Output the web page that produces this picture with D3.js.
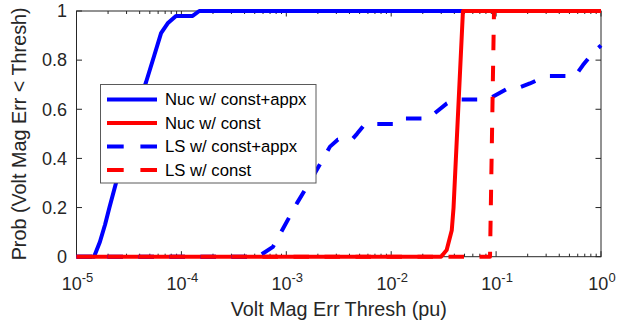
<!DOCTYPE html>
<html>
<head>
<meta charset="utf-8">
<script src="https://cdn.jsdelivr.net/npm/d3@7"></script>
<style>
  body { margin: 0; background: #fff; }
  svg { display: block; font-family: "Liberation Sans", Arial, sans-serif; }
</style>
</head>
<body>
<div id="chart"></div>
<script>
// values (x = threshold in pu, y = probability)
const nucAppxX = [1e-5, 1.47e-5, 1.67e-5, 1.87e-5, 2.06e-5, 2.38e-5, 2.49e-5, 2.97e-5, 3.53e-5, 4.60e-5, 5.52e-5, 6.40e-5, 7.40e-5, 8.88e-5, 1.28e-4, 1.48e-4, 1];
const nucAppxY = [0, 0, 0.06, 0.13, 0.2, 0.3, 0.34, 0.45, 0.57, 0.71, 0.82, 0.91, 0.95, 0.98, 0.98, 1, 1];

const nucConstX = [1e-5, 0.0299, 0.0338, 0.0378, 0.0393, 0.0483, 1];
const nucConstY = [0, 0, 0.027, 0.108, 0.2, 1, 1];

const lsAppxX = [1e-5, 5.37e-4, 7.46e-4, 1.265e-3, 1.758e-3, 2.61e-3, 3.11e-3, 4.23e-3, 4.72e-3, 5.62e-3, 0.01086, 0.01213, 0.02244, 0.0340, 0.0406, 0.0703, 0.0875, 0.130, 0.169, 0.210, 0.251, 0.313, 0.565, 0.673, 0.840, 1];
const lsAppxY = [0, 0, 0.04, 0.218, 0.32, 0.448, 0.477, 0.477, 0.5, 0.54, 0.54, 0.562, 0.562, 0.624, 0.64, 0.64, 0.645, 0.685, 0.69, 0.705, 0.72, 0.735, 0.735, 0.78, 0.83, 0.86];

const lsConstX = [1e-5, 0.0875, 0.0955, 1];
const lsConstY = [0, 0, 1, 1];

const seriesNames = ['Nuc w/ const+appx', 'Nuc w/ const', 'LS w/ const+appx', 'LS w/ const'];
const seriesColors = ['#0000ff', '#ff0000', '#0000ff', '#ff0000'];
const seriesDashed = [false, false, true, true];

const xTickPowers = [-5, -4, -3, -2, -1, 0];
const yTicks = [0, 0.2, 0.4, 0.6, 0.8, 1];

const W = 621, H = 330;
const axisColor = '#262626';

const svg = d3.select('#chart').append('svg')
  .attr('width', W)
  .attr('height', H);

const x = d3.scaleLog().domain([1e-5, 1]).range([76.5, 601]);
const y = d3.scaleLinear().domain([0, 1]).range([256.7, 11]);

// box
svg.append('rect')
  .attr('x', x.range()[0]).attr('y', y(1))
  .attr('width', x.range()[1] - x.range()[0])
  .attr('height', y(0) - y(1))
  .attr('fill', 'none')
  .attr('stroke', axisColor)
  .attr('stroke-width', 1);

// ticks (inside, on all four sides)
const minorX = x.ticks().filter(v => !xTickPowers.some(p => Math.abs(Math.log10(v) - p) < 1e-9));
const majorX = xTickPowers.map(p => Math.pow(10, p));
const tickG = svg.append('g').attr('stroke', axisColor).attr('stroke-width', 1);

majorX.forEach(v => {
  tickG.append('line').attr('x1', x(v)).attr('x2', x(v)).attr('y1', y(0)).attr('y2', y(0) - 5.5);
  tickG.append('line').attr('x1', x(v)).attr('x2', x(v)).attr('y1', y(1)).attr('y2', y(1) + 5.5);
});
minorX.forEach(v => {
  tickG.append('line').attr('x1', x(v)).attr('x2', x(v)).attr('y1', y(0)).attr('y2', y(0) - 3);
  tickG.append('line').attr('x1', x(v)).attr('x2', x(v)).attr('y1', y(1)).attr('y2', y(1) + 3);
});
yTicks.forEach(v => {
  tickG.append('line').attr('x1', x.range()[0]).attr('x2', x.range()[0] + 5.5).attr('y1', y(v)).attr('y2', y(v));
  tickG.append('line').attr('x1', x.range()[1]).attr('x2', x.range()[1] - 5.5).attr('y1', y(v)).attr('y2', y(v));
});

// tick labels
const xl = svg.append('g')
  .selectAll('text')
  .data(xTickPowers)
  .enter().append('text')
  .attr('x', d => x(Math.pow(10, d)) + 1)
  .attr('y', 290)
  .attr('text-anchor', 'middle')
  .attr('fill', axisColor)
  .style('font-size', '18px');
xl.append('tspan').text('10');
xl.append('tspan').attr('dy', -8).style('font-size', '13px').text(d => d === 0 ? '0' : '-' + Math.abs(d));

svg.append('g')
  .selectAll('text')
  .data(yTicks)
  .enter().append('text')
  .attr('x', 67)
  .attr('y', d => y(d))
  .attr('dy', '0.35em')
  .attr('text-anchor', 'end')
  .attr('fill', axisColor)
  .style('font-size', '18px')
  .text(d => d3.format('~g')(d));

// axis labels
svg.append('text')
  .attr('x', (x.range()[0] + x.range()[1]) / 2)
  .attr('y', 316)
  .attr('text-anchor', 'middle')
  .attr('fill', axisColor)
  .style('font-size', '19.8px')
  .text('Volt Mag Err Thresh (pu)');

svg.append('text')
  .attr('transform', `translate(26,${(y(0) + y(1)) / 2}) rotate(-90)`)
  .attr('text-anchor', 'middle')
  .attr('fill', axisColor)
  .style('font-size', '19.8px')
  .text('Prob (Volt Mag Err < Thresh)');

// lines
const seriesData = [
  d3.zip(nucAppxX, nucAppxY),
  d3.zip(nucConstX, nucConstY),
  d3.zip(lsAppxX, lsAppxY),
  d3.zip(lsConstX, lsConstY)
];
const line = d3.line().x(d => x(d[0])).y(d => y(d[1]));

svg.append('g')
  .selectAll('path')
  .data(seriesData)
  .enter().append('path')
  .attr('d', line)
  .attr('fill', 'none')
  .attr('stroke', (d, i) => seriesColors[i])
  .attr('stroke-width', 4)
  .attr('stroke-linejoin', 'round')
  .attr('stroke-dasharray', (d, i) => seriesDashed[i] ? '15.5,15.5' : null);

// legend
const legend = svg.append('g');
legend.append('rect')
  .attr('x', 100.5).attr('y', 84.5)
  .attr('width', 215.5).attr('height', 98.5)
  .attr('fill', '#fff')
  .attr('stroke', '#5a5a5a')
  .attr('stroke-width', 1);

const rows = legend.selectAll('g.row')
  .data(seriesNames)
  .enter().append('g')
  .attr('class', 'row')
  .attr('transform', (d, i) => `translate(0,${99.5 + i * 23.5})`);

rows.append('line')
  .attr('x1', 107).attr('x2', 157)
  .attr('y1', 0).attr('y2', 0)
  .attr('stroke', (d, i) => seriesColors[i])
  .attr('stroke-width', 4)
  .attr('stroke-dasharray', (d, i) => seriesDashed[i] ? '16.7,16.7' : null);

rows.append('text')
  .attr('x', 165)
  .attr('y', 0)
  .attr('dy', '0.35em')
  .attr('fill', '#000')
  .style('font-size', '16.7px')
  .text(d => d);
</script>
</body>
</html>
